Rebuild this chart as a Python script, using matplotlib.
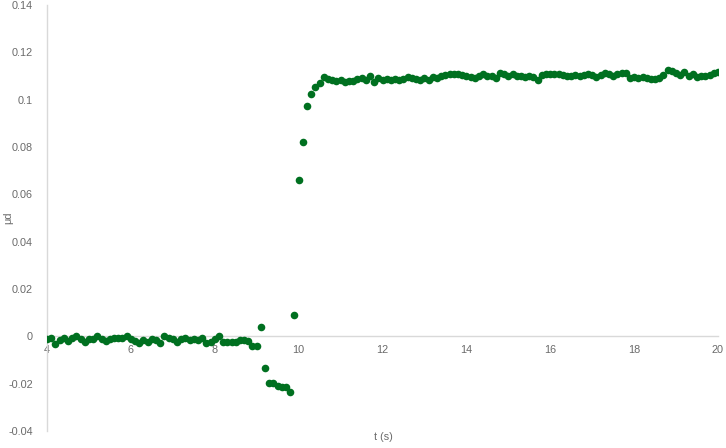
import numpy as np
import matplotlib
matplotlib.use("Agg")
import matplotlib.pyplot as plt

plt.rcParams['font.family'] = ['Liberation Sans', 'DejaVu Sans']

# time axis (s), sampled every 0.1 s
t_values = [round(4.0 + 0.1 * i, 1) for i in range(161)]

# friction coefficient readings
low_band = [
    -0.0010, -0.0008, -0.0032, -0.0015, -0.0008, -0.0018, -0.0005, 0.0000, -0.0010, -0.0025,
    -0.0012, -0.0010, 0.0000, -0.0010, -0.0020, -0.0012, -0.0005, -0.0005, -0.0005, 0.0000,
    -0.0012, -0.0020, -0.0030, -0.0015, -0.0022, -0.0010, -0.0015, -0.0028, 0.0000, -0.0005,
    -0.0012, -0.0022, -0.0012, -0.0008, -0.0015, -0.0012, -0.0015, -0.0008, -0.0028, -0.0022,
    -0.0012, 0.0003, -0.0024, -0.0024, -0.0022, -0.0022, -0.0016, -0.0015, -0.0018,
]  # 4.0 .. 8.8
transition = [
    -0.0041, -0.0041, 0.0041, -0.0134, -0.0199, -0.0199, -0.0208, -0.0212, -0.0212, -0.0237,
    0.0090, 0.0660, 0.0820, 0.0975, 0.1025, 0.1055,
]  # 8.9 .. 10.4
high_band = [
    0.1070, 0.1095, 0.1087, 0.1082, 0.1078, 0.1082, 0.1075, 0.1080, 0.1078, 0.1088,
    0.1090, 0.1082, 0.1098, 0.1075, 0.1090, 0.1082, 0.1088, 0.1084, 0.1086, 0.1082,
    0.1088, 0.1096, 0.1090, 0.1088, 0.1085, 0.1092, 0.1084, 0.1096, 0.1090, 0.1100,
    0.1105, 0.1108, 0.1110, 0.1108, 0.1104, 0.1100, 0.1096, 0.1090, 0.1100, 0.1108,
    0.1102, 0.1098, 0.1090, 0.1112, 0.1108, 0.1100, 0.1108, 0.1102, 0.1098, 0.1096,
    0.1098, 0.1096, 0.1082, 0.1105, 0.1110, 0.1110, 0.1110, 0.1108, 0.1106, 0.1102,
    0.1102, 0.1106, 0.1102, 0.1106, 0.1108, 0.1104, 0.1096, 0.1105, 0.1112, 0.1108,
    0.1100, 0.1110, 0.1112, 0.1114, 0.1090, 0.1094, 0.1092, 0.1094, 0.1090, 0.1088,
    0.1086, 0.1092, 0.1104, 0.1124, 0.1120, 0.1112, 0.1106, 0.1115, 0.1102, 0.1108,
    0.1096, 0.1098, 0.1100, 0.1105, 0.1112, 0.1118,
]  # 10.5 .. 20.0
mu_values = low_band + transition + high_band

x_ticks = [4, 6, 8, 10, 12, 14, 16, 18, 20]
y_ticks = [-0.04, -0.02, 0, 0.02, 0.04, 0.06, 0.08, 0.1, 0.12, 0.14]
y_tick_labels = ["-0.04", "-0.02", "0", "0.02", "0.04", "0.06", "0.08", "0.1", "0.12", "0.14"]

fig = plt.figure(figsize=(7.26, 4.48), dpi=100)
ax = fig.add_axes([47 / 726, 1 - 431 / 448, (718 - 47) / 726, (431 - 5) / 448])

ax.scatter(t_values, mu_values, s=30, color='#007020', zorder=3, linewidths=0)

ax.set_xlim(4, 20)
ax.set_ylim(-0.04, 0.14)
ax.set_xticks(x_ticks)
ax.set_xticklabels([str(v) for v in x_ticks])
ax.set_yticks(y_ticks)
ax.set_yticklabels(y_tick_labels)

for s in ['top', 'right']:
    ax.spines[s].set_visible(False)
ax.spines['bottom'].set_position(('data', 0))
ax.spines['bottom'].set_color('#d9d9d9')
ax.spines['left'].set_color('#d9d9d9')
ax.spines['bottom'].set_linewidth(1.0)
ax.spines['left'].set_linewidth(1.0)
ax.spines['bottom'].set_zorder(1)

ax.tick_params(axis='both', length=0, labelsize=7.8, colors='#6a6a6a')
ax.tick_params(axis='x', pad=6)
ax.tick_params(axis='y', pad=10)
for lbl in ax.get_xticklabels():
    lbl.set_zorder(2)

fig.text(8 / 726, 1 - 218 / 448, 'μd', rotation=90, ha='center', va='center',
         fontsize=7.8, color='#6a6a6a')
fig.text(383 / 726, 1 - 437 / 448, 't (s)', ha='center', va='center',
         fontsize=7.8, color='#6a6a6a')

fig.savefig('out.png', dpi=100)
